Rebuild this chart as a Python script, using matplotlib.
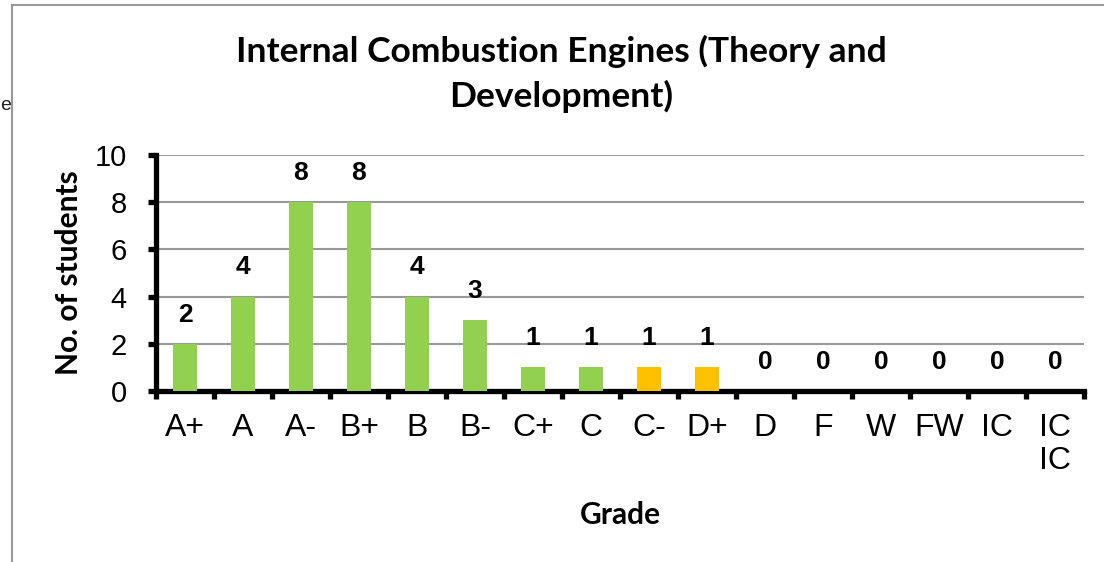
import matplotlib.pyplot as plt
from matplotlib.lines import Line2D

grades = ["A+", "A", "A-", "B+", "B", "B-", "C+", "C", "C-", "D+",
          "D", "F", "W", "FW", "IC", "IC\nIC"]
students = [2, 4, 8, 8, 4, 3, 1, 1, 1, 1, 0, 0, 0, 0, 0, 0]
bar_colors = ["#92D050"] * 8 + ["#FFC000"] * 2 + ["#92D050"] * 6

W, H = 1104, 562
fig = plt.figure(figsize=(W / 100, H / 100), dpi=100)

# page border fragments
fig.add_artist(Line2D([12 / W, 12 / W], [0, 1 - 5 / H], color="#999999", lw=1.5))
fig.add_artist(Line2D([12 / W, 1], [1 - 5 / H, 1 - 5 / H], color="#999999", lw=1.5))
fig.text(0.5 / W, 1 - 106 / H, "e", fontsize=14, family="Liberation Sans",
         va="center", ha="left", color="#222222")

ax = fig.add_axes([156 / W, 1 - 391 / H, (1084 - 156) / W, (391 - 155) / H])

x = list(range(len(grades)))
ax.bar(x, students, width=0.4, color=bar_colors, zorder=3)

for xi, v in zip(x, students):
    ax.annotate(str(v), (xi, v), xytext=(0, 21), textcoords="offset points",
                ha="center", va="center", fontsize=19, fontweight="bold",
                family="Liberation Sans")

ax.set_xlim(-0.5, len(grades) - 0.5)
ax.set_ylim(0, 10)
ax.set_yticks([0, 2, 4, 6, 8, 10])
ax.yaxis.grid(True, color="#999999", lw=1.5, zorder=0)
ax.set_axisbelow(True)

for s in ["top", "right"]:
    ax.spines[s].set_visible(False)
for s in ["left", "bottom"]:
    ax.spines[s].set_linewidth(3.8)

ax.set_xticks([i - 0.5 for i in range(len(grades) + 1)], [""] * (len(grades) + 1))
ax.set_xticks(x, grades, minor=True)
ax.tick_params(axis="x", which="major", length=6, width=3.8, direction="out")
ax.tick_params(axis="x", which="minor", length=0, pad=16, labelsize=23)
ax.tick_params(axis="y", length=6, width=3.8, direction="out", labelsize=21, pad=15)
for lab in ax.get_xticklabels(minor=True) + ax.get_yticklabels():
    lab.set_family("Liberation Sans")
for lab in ax.get_xticklabels(minor=True):
    lab.set_linespacing(1.1)

ax.set_ylabel("No. of students", fontsize=21.5, fontweight="bold", family="Lato", labelpad=8)
ax.set_xlabel("Grade", fontsize=21.5, fontweight="bold", family="Lato", labelpad=18.5)

fig.text(561 / W, 1 - 74 / H, "Internal Combustion Engines (Theory and\nDevelopment)",
         ha="center", va="center", fontsize=25.5, fontweight="bold", family="Lato",
         linespacing=1.45)

fig.savefig("out.png", dpi=100)
